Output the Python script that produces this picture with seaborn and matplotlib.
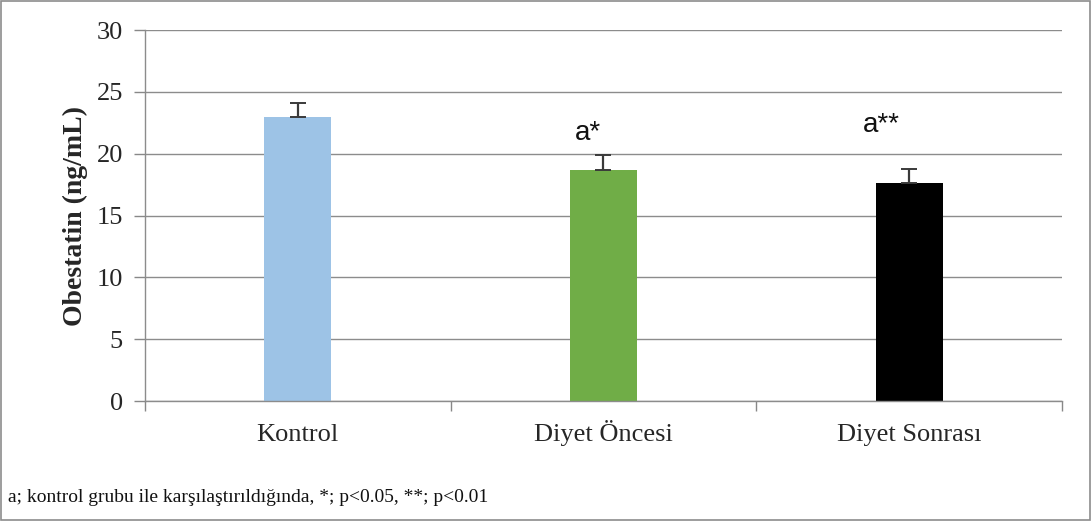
import matplotlib
matplotlib.use("Agg")
import matplotlib.pyplot as plt
from matplotlib.patches import Rectangle
from matplotlib.ticker import FixedLocator
import seaborn as sns
import pandas as pd

groups = ["Kontrol", "Diyet Öncesi", "Diyet Sonrası"]
means = [23.0, 18.7, 17.6]
errors = [1.1, 1.2, 1.2]
marks = ["", "a*", "a**"]
mark_x = [0, 0.95, 1.91]
mark_y = [0, 21.1, 21.75]
colors = ["#9DC3E6", "#70AD47", "#000000"]
y_ticks = [0, 5, 10, 15, 20, 25, 30]
footnote = "a; kontrol grubu ile karşılaştırıldığında, *; p<0.05, **; p<0.01"

sns.set_style("white")
plt.rcParams["font.family"] = ["Liberation Serif", "DejaVu Serif"]

df = pd.DataFrame({"grup": groups, "deger": means})

fig = plt.figure(figsize=(10.92, 5.21), dpi=100)
ax = fig.add_axes([0.1328, 0.2303, 0.8397, 0.7121])

sns.barplot(data=df, x="grup", y="deger", hue="grup", palette=colors,
            width=0.22, errorbar=None, legend=False, ax=ax, saturation=1,
            linewidth=0)

# upper half error bars only
ax.errorbar(range(len(groups)), means, yerr=[[0] * len(groups), errors],
            fmt="none", ecolor="#3a3a3a", elinewidth=1.6, capsize=6, capthick=1.4)

for t, xx, yy in zip(marks, mark_x, mark_y):
    if t:
        ax.text(xx, yy, t, ha="center", va="baseline",
                fontsize=20, family=["Liberation Sans", "DejaVu Sans"], color="#111111")

ax.set_ylim(0, 30)
ax.set_xlim(-0.5, 2.5)
ax.set_yticks(y_ticks)
ax.set_yticklabels([str(v) for v in y_ticks], fontsize=19)
ax.set_xticks(range(len(groups)))
ax.set_xticklabels(groups, fontsize=19)
for lbl in ax.get_xticklabels():
    lbl.set_verticalalignment("baseline")
ax.xaxis.set_minor_locator(FixedLocator([-0.5, 0.5, 1.5, 2.5]))
ax.tick_params(axis="x", which="major", length=0, pad=29)
ax.tick_params(axis="x", which="minor", length=7, color="#888888", width=1, bottom=True)
ax.tick_params(axis="y", length=8, color="#888888", width=1, left=True, pad=8)
ax.set_xlabel("")
ax.set_ylabel("Obestatin (ng/mL)", fontsize=20, fontweight="bold", labelpad=6)

ax.yaxis.grid(True, color="#8c8c8c", linewidth=1)
ax.set_axisbelow(True)
for side in ["top", "right"]:
    ax.spines[side].set_visible(False)
for side in ["left", "bottom"]:
    ax.spines[side].set_color("#8c8c8c")
    ax.spines[side].set_linewidth(1)

fig.text(0.007, 0.046, footnote, fontsize=14, ha="left", va="center", color="#111111")

fig.patches.append(Rectangle((0.0005, 0.001), 0.998, 0.997, transform=fig.transFigure,
                             fill=False, edgecolor="#8c8c8c", linewidth=1.2))

fig.savefig("out.png", dpi=100)
